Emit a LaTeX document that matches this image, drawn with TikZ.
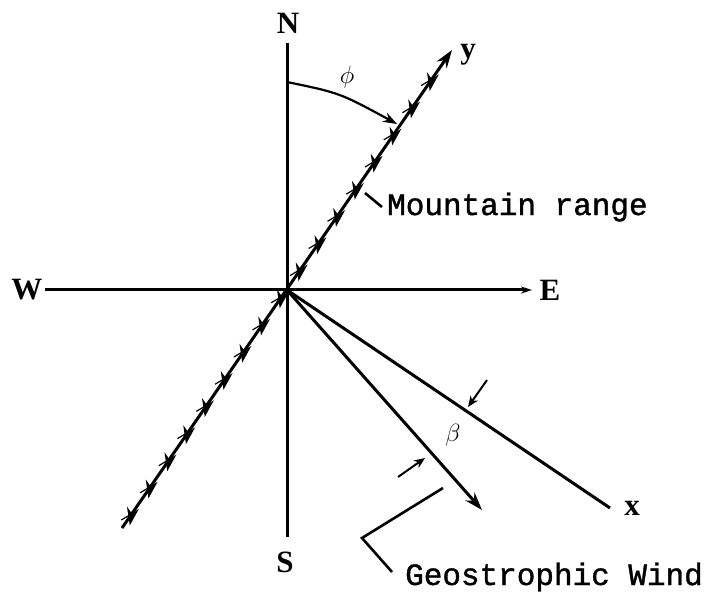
\documentclass[tikz,border=0pt]{standalone}
\usepackage{fontspec}
\setmainfont{Liberation Serif}
\newfontfamily\heavymono{Liberation Mono}[FakeBold=1.2]
\usetikzlibrary{arrows.meta,decorations.markings}
\begin{document}
\begin{tikzpicture}[x=1pt,y=1pt,
  axis/.style={line width=3pt},
  lbl/.style={font=\fontsize{31}{34}\selectfont\bfseries},
  mono/.style={font=\fontsize{31}{34}\selectfont\heavymono},
  greek/.style={font=\fontsize{27}{30}\selectfont},
  bigtip/.style={-{Stealth[length=18pt,width=12pt]}},
  smalltip/.style={-{Stealth[length=11pt,width=9pt]}},
  chev/.style={postaction={decorate},decoration={markings,
    mark=between positions 0.03 and 0.94 step 33pt with
    {\draw[line width=1.2pt,line cap=round] (-11pt,5pt) -- (0,0) -- (-11pt,-5pt);}}}
]
\useasboundingbox (0,0) rectangle (712,595);
\fill[white] (0,0) rectangle (712,595);
\coordinate (O) at (287,305);
% compass labels
\node[lbl] (N) at (288,572) {N};
\node[lbl] (S) at (285,33) {S};
\node[lbl] (W) at (27,305) {W};
\node[lbl] (E) at (550,305) {E};
\node[lbl] (ylab) at (468,540) {y};
\node[lbl] (xlab) at (632,87) {x};
% axes
\coordinate (Ntop) at (287,552);
\coordinate (Sbot) at (287,58);
\coordinate (Wl) at (45,305);
\coordinate (Er) at (532,305);
\draw[axis] (Ntop) -- (Sbot);
\draw[axis,-{Stealth[length=11pt,width=7pt]}] (Wl) -- (Er);
% mountain range (y axis)
\coordinate (Mb) at (122,67);
\coordinate (Mt) at (452,545);
\draw[axis,bigtip,chev] (Mb) -- (Mt);
% x axis
\coordinate (Xe) at (610,87);
\draw[axis] (O) -- (Xe);
% geostrophic wind
\coordinate (Gw) at (482,85);
\draw[axis,bigtip] (O) -- (Gw);
% phi
\coordinate (P1) at (287,513);
\coordinate (P2) at (397,471);
\draw[line width=2.2pt,-{Stealth[length=14pt,width=10pt]}] (P1) .. controls (340,502) .. (P2);
\node[greek] (phi) at (347,518) {$\phi$};
% beta
\coordinate (B1a) at (487,215);
\coordinate (B1b) at (468,188);
\coordinate (B2a) at (398,118);
\coordinate (B2b) at (425,137);
\draw[line width=2pt,smalltip] (B1a) -- (B1b);
\draw[line width=2pt,smalltip] (B2a) -- (B2b);
\node[greek] (beta) at (453,160) {$\beta$};
% labels with leaders
\node[mono,anchor=west,inner sep=0pt] (mr) at (387,388) {Mountain range};
\coordinate (L1) at (365,402);
\draw[line width=2.6pt] (L1) -- ([xshift=-5pt]mr.west);
\node[mono,anchor=base west,inner sep=0pt] (gw) at (405,10) {Geostrophic Wind};
\coordinate (L2a) at (443,107);
\coordinate (L2b) at (362,57);
\coordinate (L2c) at (392,23);
\draw[line width=2.6pt] (L2a) -- (L2b) -- (L2c);
\end{tikzpicture}
\end{document}
